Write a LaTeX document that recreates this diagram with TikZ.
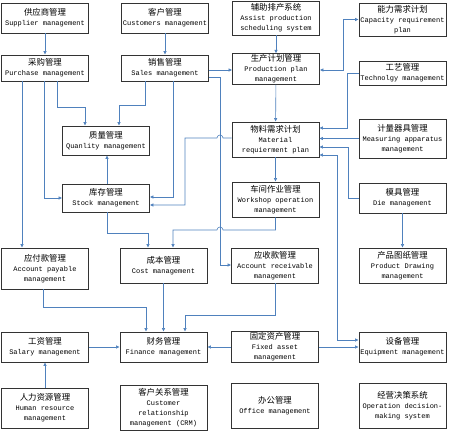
\documentclass[tikz,border=0pt]{standalone}
\usepackage{fontspec}
\setmonofont{Liberation Mono}
\newfontfamily\cjk[Scale=1.2]{Noto Sans CJK SC}
\usetikzlibrary{arrows.meta}
\definecolor{linkblue}{RGB}{79,129,189}
\newcommand{\zh}[1]{{\cjk #1}}

\begin{document}
\begin{tikzpicture}[x=1pt, y=-1pt, >={Latex[length=3.5pt,width=3.5pt]},
  box/.style={draw=black!80, line width=0.8pt, fill=white, minimum width=87pt,
    align=center, inner sep=1pt, font=\ttfamily\fontsize{7}{10}\selectfont},
  link/.style={draw=linkblue, line width=0.6pt, ->}]
  \useasboundingbox (0,0) rectangle (450,431);
  % row 1
  \node[box, minimum height=30pt] (supplier) at (45,18) {\zh{供应商管理}\\Supplier management};
  \node[box, minimum height=30pt] (customers) at (165,18) {\zh{客户管理}\\Customers management};
  \node[box, minimum height=34pt] (assist) at (276,18) {\zh{辅助排产系统}\\Assist production\\scheduling system};
  \node[box, minimum height=33pt] (capacity) at (402.5,19.5) {\zh{能力需求计划}\\Capacity requirement\\plan};
  % row 2
  \node[box, minimum height=26pt] (purchase) at (45,68) {\zh{采购管理}\\Purchase management};
  \node[box, minimum height=26pt] (sales) at (165,68) {\zh{销售管理}\\Sales management};
  \node[box, minimum height=28pt] (prodplan) at (276,69) {\zh{生产计划管理}\\Production plan\\management};
  \node[box, minimum height=24pt] (technology) at (402.5,73) {\zh{工艺管理}\\Technolgy management};
  % row 3
  \node[box, minimum height=29pt] (quality) at (106,140.5) {\zh{质量管理}\\Quanlity management};
  \node[box, minimum height=35pt] (material) at (275.5,139.5) {\zh{物料需求计划}\\Material\\requierment plan};
  \node[box, minimum height=39pt] (measuring) at (402.5,138.5) {\zh{计量器具管理}\\Measuring apparatus\\management};
  % row 4
  \node[box, minimum height=28pt] (stock) at (106,198) {\zh{库存管理}\\Stock management};
  \node[box, minimum height=35pt] (workshop) at (275.5,199.5) {\zh{车间作业管理}\\Workshop operation\\management};
  \node[box, minimum height=30pt] (die) at (402.5,198) {\zh{模具管理}\\Die management};
  % row 5
  \node[box, minimum height=41pt] (payable) at (45,268.5) {\zh{应付款管理}\\Account payable\\management};
  \node[box, minimum height=35pt] (cost) at (163.5,265.5) {\zh{成本管理}\\Cost management};
  \node[box, minimum height=35pt] (receivable) at (275,265.5) {\zh{应收款管理}\\Account receivable\\management};
  \node[box, minimum height=35pt] (drawing) at (402.5,265.5) {\zh{产品图纸管理}\\Product Drawing\\management};
  % row 6
  \node[box, minimum height=30pt] (salary) at (45,347) {\zh{工资管理}\\Salary management};
  \node[box, minimum height=30pt] (finance) at (163.5,347) {\zh{财务管理}\\Finance management};
  \node[box, minimum height=30pt] (fixedasset) at (275,347) {\zh{固定资产管理}\\Fixed asset\\management};
  \node[box, minimum height=30pt] (equipment) at (402.5,347) {\zh{设备管理}\\Equipment management};
  % row 7
  \node[box, minimum height=40pt] (hr) at (45,408) {\zh{人力资源管理}\\Human resource\\management};
  \node[box, minimum height=45pt] (crm) at (163.5,407.5) {\zh{客户关系管理}\\Customer\\relationship\\management (CRM)};
  \node[box, minimum height=45pt] (office) at (275,405.5) {\zh{办公管理}\\Office management};
  \node[box, minimum height=45pt] (decision) at (402.5,405.5) {\zh{经营决策系统}\\Operation decision-\\making system};

  % links
  \draw[link] (supplier) -- (purchase);
  \draw[link] (customers) -- (sales);
  \draw[link] (assist) -- (prodplan);
  \draw[link,<->] (prodplan.east |- 0,70) -- (343,70) |- (capacity.west);
  \draw[link] (sales.east |- 0,70) -- (prodplan.west |- 0,70);
  \draw[link] (sales.east |- 0,77) -| (220,265) -- (receivable.west |- 0,265);
  \draw[link] (prodplan) -- (material);
  \draw[link] (technology) -| (347,128) -- (material.east |- 0,128);
  \draw[link] (measuring) -- (material.east |- measuring);
  \draw[link] (die) -| (348,147) -- (material.east |- 0,147);
  \draw[link,<->] (material.east |- 0,155) -| (337,340) -- (equipment.west |- 0,340);
  \draw[link] (material) -- (workshop);
  \draw[link] (purchase.south -| 57,0) |- (85,107) -- (quality.north -| 85,0);
  \draw[link] (sales.south -| 145,0) |- (119,105) -- (quality.north -| 119,0);
  \draw[link] (purchase.south -| 44,0) |- (stock.west |- 0,198);
  \draw[link] (sales.south -| 173,0) |- (stock.east |- 0,197);
  \draw[link] (material.west |- 0,138) -- (223,138) arc(0:-180:3) -- (185,138) |- (stock.east |- 0,205);
  \draw[link] (stock.north -| 107,0) -- (quality.south -| 107,0);
  \draw[link] (purchase.south -| 22,0) -- (payable.north -| 22,0);
  \draw[link] (stock.south -| 107,0) |- (148,233) -- (cost.north -| 148,0);
  \draw[link] (workshop) |- (223,230) arc(0:-180:3) -| (cost.north -| 173,0);
  \draw[link] (die) -- (drawing);
  \draw[link] (payable.south -| 43,0) |- (146,307) -- (finance.north -| 146,0);
  \draw[link] (cost) -- (finance);
  \draw[link] (receivable) |- (185,315) -- (finance.north -| 185,0);
  \draw[link] (salary) -- (finance);
  \draw[link] (hr) -- (salary);
  \draw[link] (fixedasset) -- (finance);
  \draw[link] (fixedasset) -- (equipment);
\end{tikzpicture}
\end{document}
